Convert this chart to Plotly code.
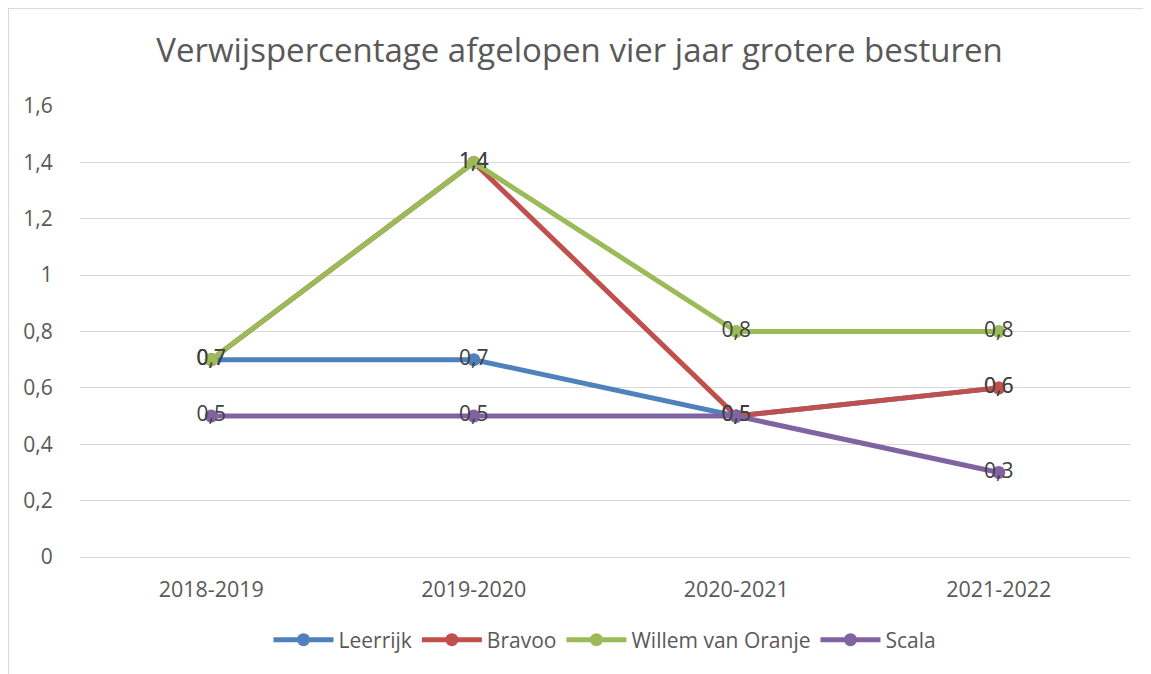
import plotly.graph_objects as go

categories = ["2018-2019", "2019-2020", "2020-2021", "2021-2022"]
leerrijk = [0.7, 0.7, 0.5, 0.6]
bravoo = [0.7, 1.4, 0.5, 0.6]
willem = [0.7, 1.4, 0.8, 0.8]
scala = [0.5, 0.5, 0.5, 0.3]
y_ticks = [0, 0.2, 0.4, 0.6, 0.8, 1, 1.2, 1.4, 1.6]
y_tick_labels = ["0", "0,2", "0,4", "0,6", "0,8", "1", "1,2", "1,4", "1,6"]

series = [
    ("Leerrijk", leerrijk, "#4F81BD"),
    ("Bravoo", bravoo, "#C0504D"),
    ("Willem van Oranje", willem, "#9BBB59"),
    ("Scala", scala, "#8064A2"),
]

FONT = "Open Sans"
W, H = 1143, 666
L, T, PW, PH = 72, 98, 1050, 451

fig = go.Figure()
for name, vals, color in series:
    fig.add_trace(go.Scatter(
        x=categories, y=vals, name=name,
        mode="lines+markers+text",
        line=dict(color=color, width=5),
        marker=dict(color=color, size=13),
        text=[str(v).replace(".", ",") for v in vals],
        textposition="middle center",
        textfont=dict(family=FONT, size=21, color="#404040"),
        cliponaxis=False,
    ))

fig.update_layout(
    width=W, height=H,
    margin=dict(l=L, r=W - L - PW, t=T, b=H - T - PH),
    paper_bgcolor="white", plot_bgcolor="white",
    title=dict(text="Verwijspercentage afgelopen vier jaar grotere besturen",
               x=0.5, xanchor="center", y=1 - 42 / H, yanchor="middle",
               font=dict(family=FONT, size=33, color="#595959")),
    legend=dict(orientation="h", x=0.5, xanchor="center", y=-0.184, yanchor="middle",
                font=dict(family=FONT, size=21, color="#595959"),
                itemwidth=60),
    showlegend=True,
)
fig.update_xaxes(
    type="category", range=[-0.5, 3.5],
    showgrid=False, showline=True, linecolor="#d9d9d9", linewidth=1,
    ticks="outside", ticklen=13, tickcolor="rgba(0,0,0,0)",
    tickfont=dict(family=FONT, size=21.5, color="#595959"),
)
fig.update_yaxes(
    range=[0, 1.6], tickvals=y_ticks, ticktext=y_tick_labels,
    showgrid=True, gridcolor="#d9d9d9", gridwidth=1, zeroline=False,
    showline=False, ticks="outside", ticklen=22, tickcolor="rgba(0,0,0,0)",
    tickfont=dict(family=FONT, size=21, color="#595959"),
)
# outer chart border (left & top) at figure edges
bx = (0 - L) / PW
by_top = (T + PH - 0) / PH
fig.add_shape(type="line", xref="paper", yref="paper",
              x0=bx, x1=bx, y0=-(H - T - PH) / PH, y1=by_top,
              line=dict(color="#d9d9d9", width=2))
fig.add_shape(type="line", xref="paper", yref="paper",
              x0=bx, x1=(W - L) / PW, y0=by_top, y1=by_top,
              line=dict(color="#d9d9d9", width=2))

fig.write_html("out.html")
